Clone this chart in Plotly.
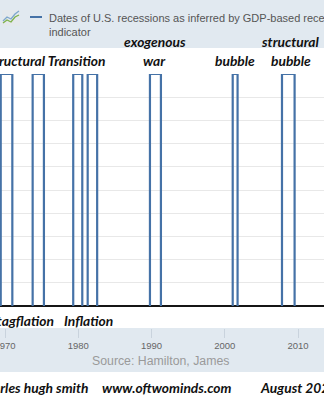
import plotly.graph_objects as go

# ---- data ----
rec_starts = ["1969-06-01", "1973-10-10", "1979-04-25", "1981-04-15", "1989-10-15", "2001-02-01", "2007-10-25"]
rec_ends   = ["1971-01-01", "1975-04-25", "1980-07-20", "1982-08-01", "1991-04-15", "2001-10-01", "2009-07-15"]
rec_value = 1
series_name = "Dates of U.S. recessions as inferred by GDP-based recession<br>indicator"
x_range = ["1969-04-26", "2013-07-20"]
tick_years = ["1970", "1980", "1990", "2000", "2010"]

top_notes = [("Structural Transition", 107, 60, "right"), ("exogenous", 155, 42, "center"),
             ("war", 154, 60, "center"), ("bubble", 234.5, 60, "center"),
             ("structural", 290, 42, "center"), ("bubble", 290.5, 60, "center"),
             ("Stagflation", 56, 320, "right"), ("Inflation", 62, 320, "left")]
footer = [("Charles hugh smith", 91, "right"), ("www.oftwominds.com", 167, "center"),
          ("August 2020", 258, "left")]

W, H = 324, 400
def px(x): return x / W
def py(y): return 1 - y / H

xs, ys = [], []
for s, e in zip(rec_starts, rec_ends):
    xs += [s, s, e, e, None]
    ys += [0, rec_value, rec_value, 0, None]

fig = go.Figure()
fig.add_trace(go.Scatter(x=xs, y=ys, mode="lines", name=series_name,
                         line=dict(color="#4572a7", width=2.2), showlegend=False,
                         connectgaps=False, hoverinfo="skip"))

band = "#e1e9f0"
shapes = [
    dict(type="rect", xref="paper", yref="paper", x0=0, x1=1, y0=py(48), y1=1,
         fillcolor=band, line=dict(width=0), layer="below"),
    dict(type="rect", xref="paper", yref="paper", x0=0, x1=1, y0=py(372), y1=py(328),
         fillcolor=band, line=dict(width=0), layer="below"),
    # legend line sample
    dict(type="line", xref="paper", yref="paper", x0=px(30), x1=px(42), y0=py(17), y1=py(17),
         line=dict(color="#4572a7", width=2)),
    # legend icon
    dict(type="rect", xref="paper", yref="paper", x0=px(2), x1=px(20), y0=py(26), y1=py(10),
         fillcolor="#e4e8ec", line=dict(width=0)),
    dict(type="path", xref="paper", yref="paper",
         path=f"M {px(3)},{py(23)} L {px(7)},{py(20)} L {px(11)},{py(22)} L {px(15)},{py(17)} L {px(19)},{py(15)}",
         line=dict(color="#7fb24a", width=1.3)),
    dict(type="path", xref="paper", yref="paper",
         path=f"M {px(3)},{py(21)} L {px(7)},{py(17)} L {px(11)},{py(19)} L {px(15)},{py(14)} L {px(19)},{py(11)}",
         line=dict(color="#7ea7cc", width=1.3)),
]

ann = []
note_font = dict(family="Lato", size=13.8, color="#111", weight="bold", style="italic")
for t, x, y, a in top_notes:
    ann.append(dict(text=t, x=px(x), y=py(y), xref="paper", yref="paper", xanchor=a,
                    yanchor="middle", showarrow=False, font=note_font))
for t, x, a in footer:
    ann.append(dict(text=t, x=px(x), y=py(387), xref="paper", yref="paper", xanchor=a,
                    yanchor="middle", showarrow=False, font=note_font))
ann.append(dict(text=series_name, x=px(47), y=py(10), xref="paper", yref="paper",
                xanchor="left", yanchor="top", align="left", showarrow=False,
                font=dict(family="Liberation Sans, Arial", size=11, color="#555")))
ann.append(dict(text="Source: Hamilton, James", x=px(160), y=py(361), xref="paper", yref="paper",
                xanchor="center", yanchor="middle", showarrow=False,
                font=dict(family="Liberation Sans, Arial", size=12.3, color="#9a9a9a")))

fig.update_layout(
    width=W, height=H, margin=dict(l=0, r=0, t=0, b=0, autoexpand=False),
    paper_bgcolor="white", plot_bgcolor="white",
    shapes=shapes, annotations=ann, showlegend=False,
    xaxis=dict(type="date", range=x_range, anchor="free", position=py(328),
               tickmode="linear", tick0="1970-01-01", dtick="M120", tickformat="%Y",
               ticklabeloverflow="allow", automargin=False,
               ticks="outside", ticklen=9, tickwidth=1, tickcolor="#c9d3dd",
               showgrid=False, showline=False, zeroline=False,
               tickfont=dict(family="Liberation Sans, Arial", size=9.5, color="#666")),
    yaxis=dict(range=[0, 1], domain=[py(306), py(74)], dtick=0.1, showticklabels=False,
               automargin=False,
               showgrid=True, gridcolor="#e8e8e8", gridwidth=1,
               zeroline=True, zerolinecolor="#151515", zerolinewidth=2, ticks=""),
)

fig.write_html("out.html")
